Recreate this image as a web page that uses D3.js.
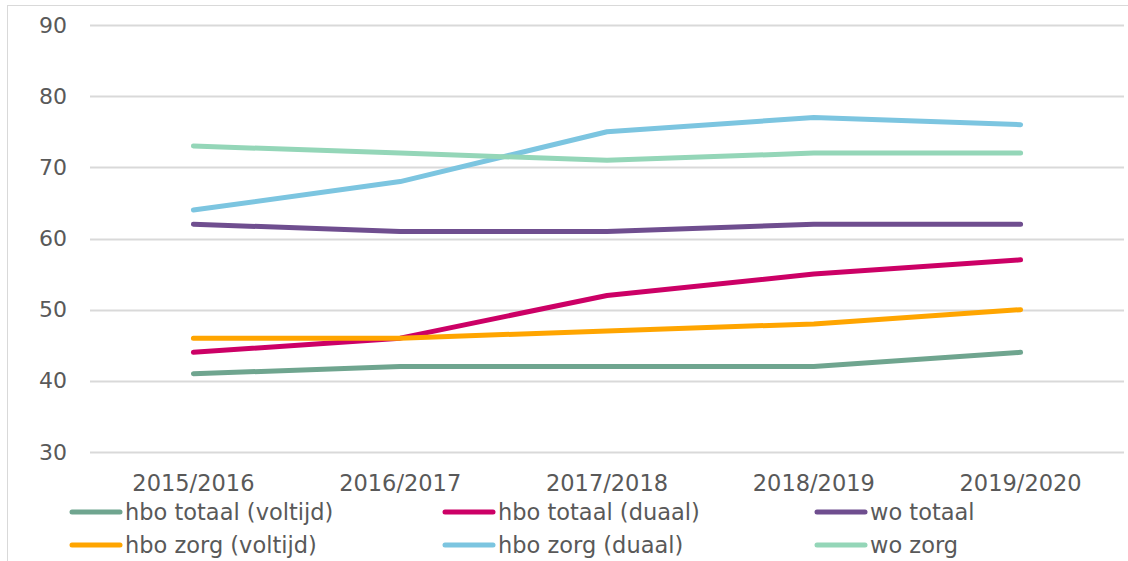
<!DOCTYPE html>
<html lang="nl">
<head>
  <meta charset="UTF-8">
  <title>Percentage per studiejaar</title>
  <script src="https://d3js.org/d3.v7.min.js"></script>
  <style>
    body { margin: 0; font-family: "DejaVu Sans", Verdana, sans-serif; background: #fff; }
    .legend text { fill: #595959; font-size: 22.5px; }
  </style>
</head>
<body>
  <div id="chart"></div>

  <script>
    const years = ["2015/2016", "2016/2017", "2017/2018", "2018/2019", "2019/2020"];
    const seriesNames = ["hbo totaal (voltijd)", "hbo totaal (duaal)", "wo totaal",
                         "hbo zorg (voltijd)", "hbo zorg (duaal)", "wo zorg"];
    const seriesColors = ["#6fa58f", "#cc0066", "#6f4e8f", "#ffa500", "#7cc5e0", "#94d6b8"];

    const hboTotaalVoltijd = [41, 42, 42, 42, 44];
    const hboTotaalDuaal   = [44, 46, 52, 55, 57];
    const woTotaal         = [62, 61, 61, 62, 62];
    const hboZorgVoltijd   = [46, 46, 47, 48, 50];
    const hboZorgDuaal     = [64, 68, 75, 77, 76];
    const woZorg           = [73, 72, 71, 72, 72];

    const yTicks = [30, 40, 50, 60, 70, 80, 90];

    const seriesValues = [hboTotaalVoltijd, hboTotaalDuaal, woTotaal,
                          hboZorgVoltijd, hboZorgDuaal, woZorg];

    const W = 1128, H = 561;
    const margin = {top: 25, right: 4, bottom: 109, left: 90},
          width = W - margin.left - margin.right,
          height = H - margin.top - margin.bottom;

    const root = d3.select("#chart")
                   .append("svg")
                   .attr("width", W)
                   .attr("height", H);

    // chart frame
    root.append("rect")
        .attr("x", 7.5).attr("y", 5.5)
        .attr("width", W + 10).attr("height", H + 10)
        .attr("fill", "none")
        .attr("stroke", "#d9d9d9");

    const svg = root.append("g")
                    .attr("transform", `translate(${margin.left},${margin.top})`);

    const x = d3.scaleBand()
                .domain(years)
                .range([0, width]);

    const y = d3.scaleLinear()
                .domain([30, 90])
                .range([height, 0]);

    // grid lines
    svg.append("g")
       .selectAll("line")
       .data(yTicks)
       .enter()
       .append("line")
       .attr("x1", 0)
       .attr("x2", width)
       .attr("y1", d => Math.round(y(d)) + 0.5)
       .attr("y2", d => Math.round(y(d)) + 0.5)
       .attr("stroke", "#d9d9d9")
       .attr("stroke-width", 2);

    const yAxis = svg.append("g")
       .call(d3.axisLeft(y).tickValues(yTicks).tickSize(0).tickPadding(23));
    yAxis.select(".domain").remove();
    yAxis.selectAll("text")
         .attr("fill", "#595959")
         .style("font-size", "22px")
         .style("font-family", "'DejaVu Sans', Verdana, sans-serif");

    const xAxis = svg.append("g")
       .attr("transform", `translate(0,${height})`)
       .call(d3.axisBottom(x).tickSize(0).tickPadding(23));
    xAxis.select(".domain").remove();
    xAxis.selectAll("text")
         .attr("fill", "#595959")
         .style("font-size", "22.5px")
         .style("font-family", "'DejaVu Sans', Verdana, sans-serif");

    const line = d3.line()
                   .x((d, i) => x(years[i]) + x.bandwidth() / 2)
                   .y(d => y(d));

    svg.selectAll(".series")
       .data(seriesValues)
       .enter()
       .append("path")
       .attr("class", "series")
       .attr("d", d => line(d))
       .attr("fill", "none")
       .attr("stroke", (d, i) => seriesColors[i])
       .attr("stroke-width", 5)
       .attr("stroke-linecap", "round")
       .attr("stroke-linejoin", "round");

    // legend, 3 columns x 2 rows
    const colX = [70, 443, 815];
    const rowY = [512, 545];
    const legend = root.append("g").attr("class", "legend");
    seriesNames.forEach((name, i) => {
      const cx = colX[i % 3], cy = rowY[Math.floor(i / 3)];
      const g = legend.append("g").attr("transform", `translate(${cx},${cy})`);
      g.append("line")
       .attr("x1", 2).attr("x2", 50)
       .attr("y1", 0).attr("y2", 0)
       .attr("stroke", seriesColors[i])
       .attr("stroke-width", 5)
       .attr("stroke-linecap", "round");
      g.append("text")
       .attr("x", 55)
       .attr("y", 0)
       .attr("dy", "0.35em")
       .text(name);
    });
  </script>
</body>
</html>
